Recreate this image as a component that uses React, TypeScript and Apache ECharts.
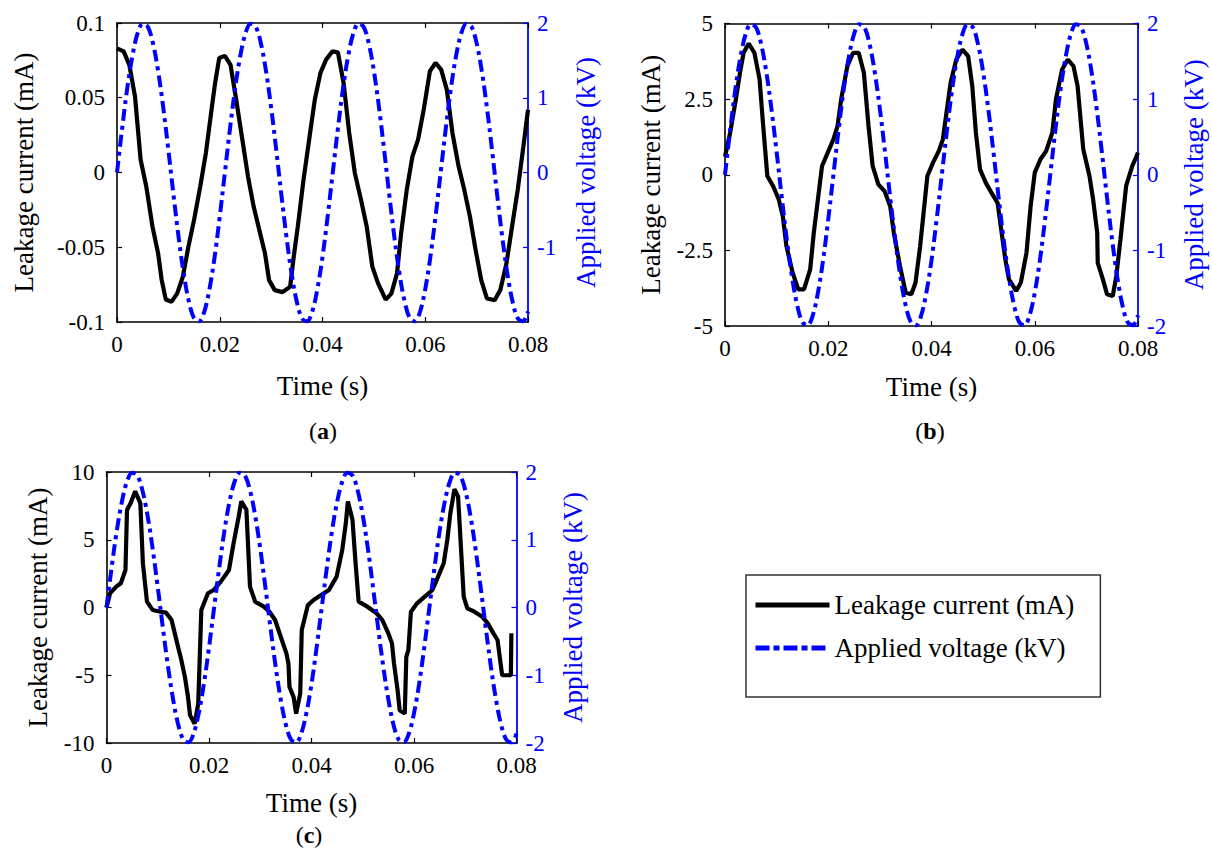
import React, { useEffect, useRef } from "react";
import * as echarts from "echarts";

// Applied voltage (kV), shared by the three panels, read every 1 ms
const timeV = [
  0, 0.001, 0.002, 0.003, 0.004, 0.005, 0.006, 0.007, 0.008, 0.009,
  0.01, 0.011, 0.012, 0.013, 0.014, 0.015, 0.016, 0.017, 0.018, 0.019,
  0.02, 0.021, 0.022, 0.023, 0.024, 0.025, 0.026, 0.027, 0.028, 0.029,
  0.03, 0.031, 0.032, 0.033, 0.034, 0.035, 0.036, 0.037, 0.038, 0.039,
  0.04, 0.041, 0.042, 0.043, 0.044, 0.045, 0.046, 0.047, 0.048, 0.049,
  0.05, 0.051, 0.052, 0.053, 0.054, 0.055, 0.056, 0.057, 0.058, 0.059,
  0.06, 0.061, 0.062, 0.063, 0.064, 0.065, 0.066, 0.067, 0.068, 0.069,
  0.07, 0.071, 0.072, 0.073, 0.074, 0.075, 0.076, 0.077, 0.078, 0.079,
  0.08,
];
const voltage = [
  0, 0.59, 1.13, 1.56, 1.86, 1.99, 1.95, 1.73, 1.36, 0.87,
  0.3, -0.3, -0.87, -1.36, -1.73, -1.95, -1.99, -1.86, -1.56, -1.13,
  -0.59, 0, 0.59, 1.13, 1.56, 1.86, 1.99, 1.95, 1.73, 1.36,
  0.87, 0.3, -0.3, -0.87, -1.36, -1.73, -1.95, -1.99, -1.86, -1.56,
  -1.13, -0.59, 0, 0.59, 1.13, 1.56, 1.86, 1.99, 1.95, 1.73,
  1.36, 0.87, 0.3, -0.3, -0.87, -1.36, -1.73, -1.95, -1.99, -1.86,
  -1.56, -1.13, -0.59, 0, 0.59, 1.13, 1.56, 1.86, 1.99, 1.95,
  1.73, 1.36, 0.87, 0.3, -0.3, -0.87, -1.36, -1.73, -1.95, -1.99,
  -1.86,
];

// Panel (a) leakage current (mA)
const timeA = [
  0, 0.0013, 0.0024, 0.0035, 0.0046, 0.0057, 0.0069, 0.008, 0.0087, 0.0095,
  0.0106, 0.0117, 0.0128, 0.0139, 0.015, 0.0162, 0.0173, 0.0184, 0.0191, 0.0199,
  0.021, 0.0221, 0.0232, 0.0244, 0.0255, 0.0266, 0.0277, 0.0288, 0.0296, 0.0307,
  0.0322, 0.0337, 0.0344, 0.0352, 0.0363, 0.0374, 0.0385, 0.0396, 0.0407, 0.0419,
  0.043, 0.0441, 0.0452, 0.0463, 0.0475, 0.0486, 0.0497, 0.0508, 0.0523, 0.0534,
  0.0545, 0.0553, 0.0564, 0.0575, 0.0586, 0.0597, 0.0609, 0.062, 0.0631, 0.0642,
  0.0653, 0.0665, 0.0676, 0.0687, 0.0698, 0.0709, 0.072, 0.0735, 0.0746, 0.0758,
  0.0769, 0.078, 0.0791, 0.08,
];
const currentA = [
  0.083, 0.081, 0.072, 0.051, 0.0085, -0.0094, -0.036, -0.054, -0.072, -0.085,
  -0.0865, -0.081, -0.07, -0.0496, -0.0317, -0.0094, 0.013, 0.042, 0.06, 0.0766,
  0.078, 0.072, 0.0487, 0.022, -0.0027, -0.0228, -0.0384, -0.054, -0.072, -0.0787,
  -0.08, -0.0764, -0.0563, -0.036, -0.005, 0.022, 0.0487, 0.0666, 0.0755, 0.081,
  0.0804, 0.06, 0.0264, -0.0004, -0.0183, -0.036, -0.063, -0.074, -0.085, -0.081,
  -0.0675, -0.0407, -0.0116, 0.0107, 0.022, 0.042, 0.0677, 0.0733, 0.0688, 0.0554,
  0.0264, 0.004, -0.0116, -0.0295, -0.0518, -0.072, -0.0842, -0.0854, -0.0787, -0.061,
  -0.036, -0.0116, 0.0174, 0.042,
];

// Panel (b) leakage current (mA)
const timeB = [
  0, 0.001, 0.0021, 0.0029, 0.0036, 0.0046, 0.0057, 0.0067, 0.0074, 0.0082,
  0.0093, 0.0104, 0.0112, 0.0119, 0.0131, 0.0142, 0.0153, 0.0165, 0.0172, 0.018,
  0.0188, 0.0199, 0.021, 0.0218, 0.0225, 0.0237, 0.0248, 0.0259, 0.0269, 0.0278,
  0.0286, 0.0297, 0.0309, 0.032, 0.0327, 0.0339, 0.035, 0.0361, 0.0369, 0.0378,
  0.0384, 0.0392, 0.0403, 0.0414, 0.0422, 0.0429, 0.0437, 0.0448, 0.046, 0.0471,
  0.0479, 0.0486, 0.0494, 0.0505, 0.0516, 0.0528, 0.0535, 0.0543, 0.055, 0.0564,
  0.0573, 0.0584, 0.0592, 0.06, 0.0611, 0.0622, 0.0634, 0.0641, 0.0653, 0.0664,
  0.0675, 0.0683, 0.0694, 0.0706, 0.0713, 0.0721, 0.0722, 0.0732, 0.074, 0.0751,
  0.0758, 0.0766, 0.0777, 0.0789, 0.08,
];
const currentB = [
  0.6, 1.39, 2.49, 3.37, 4.03, 4.34, 4.03, 3.15, 1.61, -0.04,
  -0.37, -0.81, -1.37, -2.36, -3.24, -3.79, -3.79, -3.13, -1.92, -0.81,
  0.29, 0.73, 1.17, 1.61, 2.49, 3.59, 4.03, 4.03, 3.37, 1.61,
  0.29, -0.32, -0.54, -1.04, -1.92, -3.02, -3.9, -3.95, -3.57, -2.36,
  -1.37, -0.04, 0.4, 0.78, 1.17, 2.05, 3.04, 3.81, 4.14, 3.92,
  2.93, 1.39, 0.18, -0.26, -0.59, -0.93, -1.81, -2.8, -3.46, -3.84,
  -3.57, -2.58, -1.04, 0.07, 0.51, 0.78, 1.39, 2.49, 3.48, 3.81,
  3.59, 2.93, 0.84, -0.04, -0.81, -1.92, -2.91, -3.46, -3.95, -4.01,
  -3.35, -2.14, -0.37, 0.29, 0.73,
];

// Panel (c) leakage current (mA)
const timeC = [
  0, 0.0007, 0.0019, 0.0028, 0.0037, 0.004, 0.0047, 0.0056, 0.0066, 0.0071,
  0.0079, 0.009, 0.0105, 0.0116, 0.0127, 0.0138, 0.0146, 0.0153, 0.0159, 0.0163,
  0.0172, 0.0179, 0.0185, 0.0198, 0.0209, 0.0223, 0.0239, 0.0248, 0.0258, 0.0263,
  0.0273, 0.028, 0.029, 0.0307, 0.0318, 0.0329, 0.034, 0.0351, 0.0355, 0.0357,
  0.0365, 0.037, 0.0378, 0.0381, 0.0393, 0.0404, 0.0419, 0.0434, 0.0449, 0.046,
  0.0467, 0.0471, 0.048, 0.0486, 0.0492, 0.0509, 0.0527, 0.0538, 0.055, 0.0557,
  0.0561, 0.0568, 0.0572, 0.0582, 0.0585, 0.0589, 0.0594, 0.0606, 0.0621, 0.0636,
  0.0647, 0.0658, 0.0665, 0.0671, 0.0679, 0.0686, 0.0697, 0.0704, 0.0718, 0.0733,
  0.0744, 0.0755, 0.0763, 0.0769, 0.0772, 0.0785, 0.0789, 0.079,
];
const currentC = [
  0, 1.05, 1.54, 1.79, 2.77, 7.2, 7.7, 8.57, 7.7, 3.27,
  0.43, -0.18, -0.31, -0.38, -0.92, -2.65, -3.88, -5.12, -6.6, -7.95,
  -8.57, -7.09, -0.18, 1.05, 1.29, 1.91, 2.77, 4.75, 6.72, 7.83,
  7.21, 1.54, 0.43, 0.06, -0.31, -0.92, -2.16, -3.39, -4.13, -5.86,
  -6.6, -7.83, -6.35, -1.66, 0.18, 0.55, 0.92, 1.29, 2.28, 4.25,
  6.23, 7.83, 6.47, 3.27, 0.43, 0.06, -0.43, -0.92, -1.91, -2.65,
  -4.13, -6.1, -7.58, -7.83, -3.64, -3.14, -0.31, 0.31, 0.8, 1.29,
  2.28, 3.27, 5.0, 6.97, 8.74, 8.2, 0.8, -0.06, -0.31, -0.68,
  -1.17, -1.91, -2.4, -4.13, -5.0, -5.0, -5.0, -1.9,
];

const xTicks = { min: 0, max: 0.08, interval: 0.02 };
const leftRanges = [
  { min: -0.1, max: 0.1, interval: 0.05 },
  { min: -5, max: 5, interval: 2.5 },
  { min: -10, max: 10, interval: 5 },
];
const rightRange = { min: -2, max: 2, interval: 1 };
const currentName = "Leakage current (mA)";
const voltageName = "Applied voltage (kV)";
const panelLetters = ["a", "b", "c"];

const FONT = "'Liberation Serif', 'Times New Roman', serif";
const BLUE = "#0000ff";
const BLACK = "#000000";

const pairs = (t: number[], v: number[]) => t.map((x, i) => [x, v[i]]);

export default function App() {
  const ref = useRef<HTMLDivElement>(null);
  useEffect(() => {
    if (!ref.current) return;
    const chart = echarts.init(ref.current, null, { renderer: "svg" });

    const grids = [
      { left: 117, top: 23, width: 411, height: 299 },
      { left: 725, top: 23.5, width: 413, height: 302.5 },
      { left: 106.5, top: 472, width: 410, height: 271 },
    ];
    const xNameGap = [50, 47, 46];
    const yLeftGap = [80, 61, 55];
    const yRightGap = [44, 42, 43];
    const labelPos = [
      [323, 431],
      [930, 431],
      [309, 835],
    ];
    const currents = [pairs(timeA, currentA), pairs(timeB, currentB), pairs(timeC, currentC)];
    const volt = pairs(timeV, voltage);

    const tickLabel = { fontFamily: FONT, fontSize: 23, color: BLACK };
    const nameStyle = { fontFamily: FONT, fontSize: 27, color: BLACK };

    const xAxis: any[] = [];
    const yAxis: any[] = [];
    const series: any[] = [];
    grids.forEach((_, i) => {
      xAxis.push({
        type: "value",
        gridIndex: i,
        position: "bottom",
        ...xTicks,
        name: "Time (s)",
        nameLocation: "middle",
        nameGap: xNameGap[i],
        nameTextStyle: nameStyle,
        axisLine: { show: true, onZero: false, lineStyle: { color: BLACK, width: 1.6 } },
        axisTick: { show: true, inside: true, length: 5, lineStyle: { color: BLACK, width: 1.2 } },
        axisLabel: { ...tickLabel, margin: 11 },
        splitLine: { show: false },
      });
      xAxis.push({
        type: "value",
        gridIndex: i,
        position: "top",
        ...xTicks,
        axisLine: { show: true, onZero: false, lineStyle: { color: BLACK, width: 1.6 } },
        axisTick: { show: true, inside: true, length: 5, lineStyle: { color: BLACK, width: 1.2 } },
        axisLabel: { show: false },
        splitLine: { show: false },
      });
      yAxis.push({
        type: "value",
        gridIndex: i,
        position: "left",
        ...leftRanges[i],
        name: currentName,
        nameLocation: "middle",
        nameGap: yLeftGap[i],
        nameRotate: 90,
        nameTextStyle: nameStyle,
        axisLine: { show: true, onZero: false, lineStyle: { color: BLACK, width: 1.6 } },
        axisTick: { show: true, inside: true, length: 5, lineStyle: { color: BLACK, width: 1.2 } },
        axisLabel: { ...tickLabel, margin: 12 },
        splitLine: { show: false },
      });
      yAxis.push({
        type: "value",
        gridIndex: i,
        position: "right",
        ...rightRange,
        name: voltageName,
        nameLocation: "middle",
        nameGap: yRightGap[i],
        nameRotate: 90,
        nameTextStyle: { ...nameStyle, color: BLUE },
        axisLine: { show: true, onZero: false, lineStyle: { color: BLUE, width: 1.8 } },
        axisTick: { show: true, inside: true, length: 5, lineStyle: { color: BLUE, width: 1.2 } },
        axisLabel: { ...tickLabel, color: BLUE, margin: 9, showMinLabel: i !== 0 },
        splitLine: { show: false },
      });
      series.push({
        type: "line",
        name: currentName,
        xAxisIndex: 2 * i,
        yAxisIndex: 2 * i,
        data: currents[i],
        symbol: "none",
        showSymbol: false,
        lineStyle: { color: BLACK, width: 4.2 },
        itemStyle: { color: BLACK },
        z: 2,
      });
      series.push({
        type: "line",
        name: voltageName,
        xAxisIndex: 2 * i,
        yAxisIndex: 2 * i + 1,
        data: volt,
        symbol: "none",
        showSymbol: false,
        smooth: 0.35,
        lineStyle: { color: BLUE, width: 4, type: [12, 5, 4, 5] },
        itemStyle: { color: BLUE },
        z: 3,
      });
    });

    const graphic = panelLetters.map((letter, i) => ({
      type: "text",
      x: labelPos[i][0],
      y: labelPos[i][1],
      style: {
        text: "({b|" + letter + "})",
        fontFamily: FONT,
        fontSize: 24,
        fill: BLACK,
        align: "center",
        verticalAlign: "middle",
        rich: { b: { fontFamily: FONT, fontSize: 24, fontWeight: "bold", fill: BLACK, color: BLACK } },
      },
    }));

    chart.setOption({
      animation: false,
      backgroundColor: "#ffffff",
      grid: grids.map((g) => ({ ...g, containLabel: false })),
      xAxis,
      yAxis,
      series,
      graphic,
      legend: {
        show: true,
        orient: "vertical",
        left: 746,
        top: 575,
        data: [
          { name: currentName, lineStyle: { color: BLACK, width: 5, type: "solid" } },
          { name: voltageName, lineStyle: { color: BLUE, width: 5, type: [14, 4, 6, 4] } },
        ],
        itemWidth: 74,
        itemHeight: 30,
        itemGap: 13,
        itemStyle: { opacity: 0, borderWidth: 0 },
        padding: [15, 26, 34, 7],
        borderColor: "#333333",
        borderWidth: 1.5,
        backgroundColor: "#ffffff",
        textStyle: { fontFamily: FONT, fontSize: 27, color: BLACK, lineHeight: 30 },
        selectedMode: false,
      },
    });
    return () => chart.dispose();
  }, []);
  return (
    <div
      ref={ref}
      style={{ position: "fixed", left: 0, top: 0, width: 1212, height: 850, background: "#fff" }}
    />
  );
}
